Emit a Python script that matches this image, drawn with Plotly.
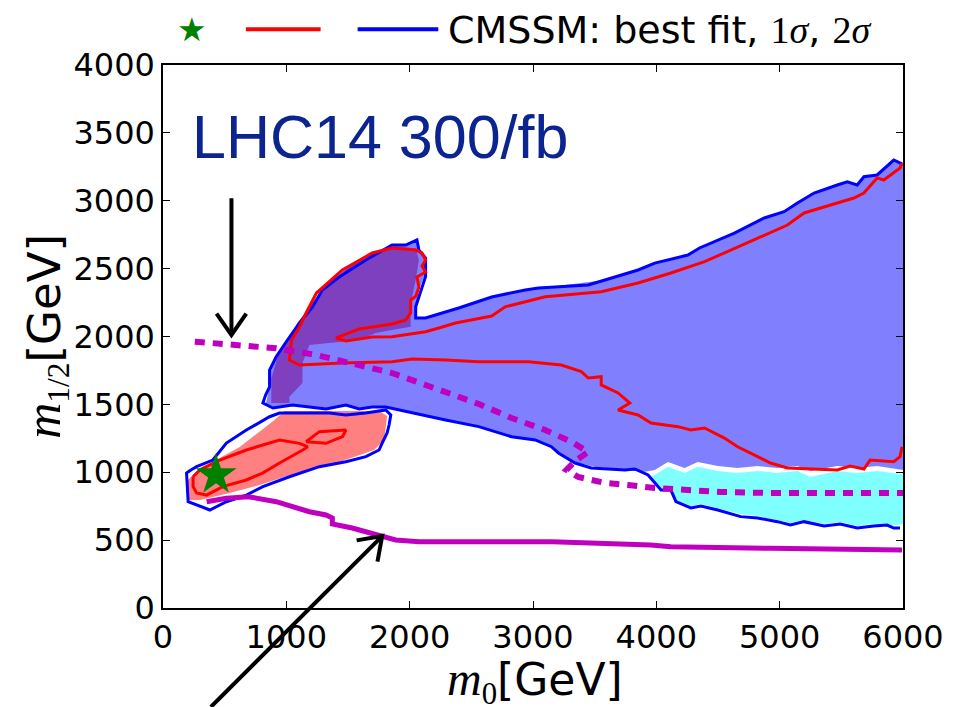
import plotly.graph_objects as go

# ---------------- data (GeV) ----------------
# 2-sigma (blue) filled region, upper band incl. hook
blue_fill_x = [832, 848, 864, 864, 918, 1009, 1106, 1211, 1292, 1429, 1645, 1857, 1968, 2059, 2075, 2129, 2129, 2075,
               2049, 2049, 2129, 2398, 2665, 2937, 3367, 3583, 3852, 3987, 4256, 4350, 4633, 4875, 5036, 5144, 5279,
               5467, 5548, 5629, 5683, 5790, 5925, 6000, 6000, 5790, 5629, 5467, 5249, 5144, 4982, 4821, 4659, 4498,
               4336, 4229, 4094, 3987, 3906, 3771, 3502, 3367, 3230, 3149, 3018, 2826, 2695, 2560, 2291, 2019, 1806,
               1696, 1591, 1483, 1322, 1187, 1050, 888]
blue_fill_y = [1495, 1569, 1628, 1753, 1851, 1974, 2099, 2217, 2343, 2438, 2564, 2674, 2674, 2711, 2637, 2564, 2468, 2343,
               2217, 2136, 2136, 2210, 2291, 2343, 2394, 2416, 2490, 2541, 2600, 2652, 2762, 2873, 2919, 2983, 3057,
               3116, 3140, 3116, 3177, 3190, 3300, 3278, 1017, 1046, 1031, 1046, 1009, 1046, 1031, 1046, 1031, 1046,
               1075, 1031, 1075, 1017, 1004, 1017, 1041, 1068, 1127, 1188, 1238, 1262, 1299, 1336, 1385, 1436, 1480,
               1480, 1466, 1495, 1466, 1480, 1495, 1473]

# overlap (hook) region
hook_fill_x = [878, 878, 930, 1015, 1090, 1180, 1275, 1390, 1530, 1690, 1870, 2049, 2075, 2049, 2019, 2008, 2008, 1857,
               1726, 1591, 1322, 1187, 1131, 1131, 1025, 1025]
hook_fill_y = [1510, 1690, 1851, 1974, 2099, 2205, 2320, 2430, 2530, 2610, 2665, 2650, 2564, 2416, 2293, 2146, 2072, 2048,
               2026, 1974, 1952, 1937, 1805, 1657, 1557, 1510]

# low-mass (red) filled region
low_fill_x = [202, 202, 299, 541, 783, 1106, 1429, 1712, 1793, 1817, 1752, 985, 904, 783, 622, 460, 299]
low_fill_y = [943, 796, 796, 847, 906, 1002, 1075, 1164, 1238, 1414, 1451, 1451, 1385, 1297, 1186, 1105, 1031]

# cyan region
cyan_fill_x = [3933, 3987, 4094, 4229, 4336, 4498, 4659, 4821, 4982, 5144, 5249, 5467, 5629, 5790, 6000, 6000, 5895,
               5763, 5629, 5491, 5360, 5198, 5087, 4982, 4821, 4684, 4498, 4361, 4280, 4159, 4118, 4038]
cyan_fill_y = [958, 980, 1040, 995, 1040, 1010, 995, 1010, 995, 1010, 965, 1010, 995, 1010, 985, 619, 604,
               619, 604, 634, 619, 648, 626, 648, 678, 692, 737, 766, 751, 796, 884, 884]

# 2-sigma contours (blue lines)
blue_a_x = [5976, 5925, 5871, 5763, 5629, 5491, 5360, 5198, 5087, 4982, 4821, 4684, 4498, 4361, 4280, 4159, 4118, 4038,
            3933, 3825, 3745, 3472, 3341, 3206, 3149, 3018, 2826, 2695, 2560, 2291, 2019, 1806, 1696, 1591, 1483, 1322,
            1187, 1050, 891, 810, 832, 864, 864, 918, 1009, 1106, 1211, 1292, 1429, 1645, 1857, 1968, 2059, 2075, 2129,
            2129, 2049, 2049, 2129, 2398, 2665, 2937, 3044, 3448, 3583, 3852, 3987, 4256, 4350, 4633, 4875, 5036,
            5144, 5279, 5467, 5548, 5629, 5683, 5790, 5925, 5992]
blue_a_y = [589, 589, 611, 604, 589, 619, 604, 636, 611, 636, 663, 673, 722, 751, 737, 783, 869, 869,
            980, 1024, 1017, 1031, 1068, 1142, 1188, 1238, 1262, 1299, 1336, 1385, 1436, 1480, 1480, 1466, 1495, 1466,
            1480, 1495, 1473, 1510, 1569, 1628, 1753, 1851, 1974, 2099, 2217, 2343, 2438, 2564, 2674, 2674, 2711, 2637,
            2578, 2441, 2219, 2136, 2136, 2210, 2291, 2343, 2357, 2379, 2416, 2490, 2541, 2600, 2652, 2762, 2873, 2919,
            2983, 3057, 3116, 3140, 3116, 3177, 3190, 3300, 3271]

blue_b_x = [226, 272, 404, 514, 676, 810, 864, 945, 1106, 1349, 1483, 1645, 1806, 1847, 1833, 1817, 1777, 1752, 1645,
            1483, 1268, 1025, 810, 676, 514, 380, 204, 191, 226]
blue_b_y = [1017, 1041, 1090, 1215, 1311, 1378, 1409, 1436, 1436, 1436, 1422, 1436, 1459, 1422, 1348, 1289, 1215, 1164,
            1115, 1078, 1041, 967, 894, 832, 783, 722, 783, 994, 1017]

# 1-sigma contours (red lines)
red_a_x = [5992, 5976, 5925, 5733, 5683, 5572, 5467, 5198, 5063, 4926, 4821, 4659, 4552, 4391, 4280, 4175, 3957, 3852,
           3690, 3785, 3690, 3553, 3553, 3448, 3392, 3230, 2964, 2560, 2291, 2019, 1857, 1454, 1106, 1025, 1042, 1106,
           1160, 1244, 1454, 1696, 1857, 2049, 2100, 2129, 2100, 2129, 2059, 2075, 2051, 2008, 2008, 1968, 1857, 1696,
           1591, 1483, 1403, 1483, 1696, 1857, 2129, 2237, 2372, 2665, 2775, 3099, 3553, 3852, 4118, 4391, 4659, 4875,
           5063, 5198, 5330, 5410, 5602, 5683, 5790, 5844, 5976, 5992]
red_a_y = [1188, 1115, 1078, 1090, 1024, 1046, 1017, 1024, 1031, 1068, 1115, 1188, 1252, 1326, 1311, 1336, 1363, 1422,
           1459, 1510, 1584, 1643, 1704, 1694, 1741, 1790, 1814, 1814, 1827, 1834, 1814, 1805, 1790, 1827, 1974, 2070,
           2173, 2320, 2490, 2615, 2652, 2637, 2615, 2564, 2519, 2475, 2438, 2365, 2298, 2269, 2173, 2122, 2092, 2072,
           2055, 2018, 1989, 1967, 1996, 1999, 2035, 2063, 2099, 2151, 2219, 2293, 2330, 2394, 2468, 2551, 2661, 2748,
           2821, 2910, 2946, 2969, 3020, 3057, 3168, 3153, 3241, 3278]

red_b_x = [244, 299, 460, 676, 945, 1106, 1173, 1133, 945, 808, 676, 485, 353, 272, 244, 244]
red_b_y = [967, 1017, 1090, 1164, 1238, 1213, 1188, 1164, 1068, 994, 943, 894, 832, 847, 894, 967]

red_c_x = [1160, 1268, 1483, 1456, 1322, 1160]
red_c_y = [1225, 1299, 1311, 1262, 1213, 1225]

# magenta limit curves
dashed_x = [258, 622, 918, 1241, 1591, 1857, 2129, 2398, 2560, 2826, 3099, 3311, 3448, 3351, 3271, 3367, 3585, 3771,
            3989, 4256, 4522, 4926, 5330, 5733, 6000]
dashed_y = [1962, 1937, 1913, 1864, 1790, 1731, 1643, 1557, 1503, 1400, 1311, 1225, 1149, 1090, 1017, 965, 921, 906,
            884, 869, 855, 847, 847, 847, 847]

solid_x = [354, 514, 692, 918, 1187, 1322, 1373, 1373, 1534, 1886, 2075, 2205, 2641, 3157, 3583, 3954, 4118, 4748,
           4926, 5992]
solid_y = [783, 808, 820, 783, 709, 685, 663, 619, 589, 501, 488, 486, 488, 488, 479, 464, 452, 440, 440, 427]

best_fit_x = [430]
best_fit_y = [980]

# annotation arrows (GeV): shaft tail->tip and open head (wing, tip, wing)
arrow1_shaft_x = [555, 555]
arrow1_shaft_y = [3018, 2011]
arrow1_head_x = [434, 555, 675]
arrow1_head_y = [2168, 2011, 2168]
arrow2_shaft_x = [388, 1777]
arrow2_shaft_y = [-729, 530]
arrow2_head_x = [1570, 1777, 1739]
arrow2_head_y = [498, 530, 342]

X_RANGE = [0, 6000]
Y_RANGE = [0, 4000]
x_ticks = [0, 1000, 2000, 3000, 4000, 5000, 6000]
y_ticks = [0, 500, 1000, 1500, 2000, 2500, 3000, 3500, 4000]

# ---------------- styles ----------------
C_BLUE_FILL = "#8080ff"
C_HOOK_FILL = "#7f40bf"
C_RED_FILL = "#ff8080"
C_CYAN_FILL = "#80ffff"
C_BLUE = "#0000ff"
C_RED = "#ff0000"
C_MAG = "#bf00bf"
MATH = "font-family:'Liberation Serif'"

fig = go.Figure()


def fill(x, y, color):
    fig.add_trace(go.Scatter(x=x, y=y, mode="lines", fill="toself", fillcolor=color,
                             line=dict(width=0, color=color), hoverinfo="skip", showlegend=False))


def line(x, y, color, width, dash=None):
    fig.add_trace(go.Scatter(x=x, y=y, mode="lines", line=dict(color=color, width=width, dash=dash),
                             hoverinfo="skip", showlegend=False))


fill(blue_fill_x, blue_fill_y, C_BLUE_FILL)
fill(hook_fill_x, hook_fill_y, C_HOOK_FILL)
fill(low_fill_x, low_fill_y, C_RED_FILL)
fill(cyan_fill_x, cyan_fill_y, C_CYAN_FILL)

line(blue_a_x, blue_a_y, C_BLUE, 3)
line(blue_b_x, blue_b_y, C_BLUE, 3)
line(red_a_x, red_a_y, C_RED, 3)
line(red_b_x, red_b_y, C_RED, 3)
line(red_c_x, red_c_y, C_RED, 3)
line(dashed_x, dashed_y, C_MAG, 6, dash="10px,8px")
line(solid_x, solid_y, C_MAG, 5)

fig.add_trace(go.Scatter(x=best_fit_x, y=best_fit_y, mode="markers",
                         marker=dict(symbol="star", size=31, color="#008000", line=dict(width=0)),
                         hoverinfo="skip", showlegend=False))


# arrows as paper-referenced paths (not clipped by the plot area)
def to_paper(xs, ys):
    px = [(v - X_RANGE[0]) / (X_RANGE[1] - X_RANGE[0]) for v in xs]
    py = [(v - Y_RANGE[0]) / (Y_RANGE[1] - Y_RANGE[0]) for v in ys]
    return px, py


def path_shape(xs, ys, width):
    px, py = to_paper(xs, ys)
    d = "M " + " L ".join(f"{a:.5f},{b:.5f}" for a, b in zip(px, py))
    fig.add_shape(type="path", xref="paper", yref="paper", path=d,
                  line=dict(color="black", width=width), layer="above")


path_shape(arrow1_shaft_x, arrow1_shaft_y, 4)
path_shape(arrow1_head_x, arrow1_head_y, 4)
path_shape(arrow2_shaft_x, arrow2_shaft_y, 4)
path_shape(arrow2_head_x, arrow2_head_y, 4)

# legend (manual, above the plot)
fig.add_annotation(xref="paper", yref="paper", x=0.039, y=1.066, xanchor="center", yanchor="middle",
                   showarrow=False, text="★", font=dict(family="DejaVu Sans", size=33, color="#008000"))
fig.add_shape(type="line", xref="paper", yref="paper", x0=0.112, x1=0.213, y0=1.066, y1=1.066,
              line=dict(color=C_RED, width=4))
fig.add_shape(type="line", xref="paper", yref="paper", x0=0.263, x1=0.372, y0=1.066, y1=1.066,
              line=dict(color=C_BLUE, width=4))
fig.add_annotation(xref="paper", yref="paper", x=0.382, y=1.064, xanchor="left", yanchor="middle",
                   showarrow=False,
                   text=f"CMSSM: best fit, <span style=\"{MATH}\">1<i>σ</i></span>, "
                        f"<span style=\"{MATH}\">2<i>σ</i></span>",
                   font=dict(family="DejaVu Sans", size=38, color="black"))

fig.add_annotation(xref="paper", yref="paper", x=0.037, y=0.867, xanchor="left", yanchor="middle",
                   showarrow=False, text="LHC14 300/fb",
                   font=dict(family="Liberation Sans", size=61, color="#0c2490"))

# axis titles
fig.add_annotation(xref="paper", yref="paper", x=0.503, y=-0.135, xanchor="center", yanchor="middle",
                   showarrow=False,
                   text=f"<i style=\"{MATH};font-size:48px\">m</i><sub style=\"{MATH}\">0</sub>[GeV]",
                   font=dict(family="DejaVu Sans", size=44, color="black"))
fig.add_annotation(xref="paper", yref="paper", x=-0.159, y=0.5, xanchor="center", yanchor="middle",
                   showarrow=False, textangle=-90,
                   text=f"<i style=\"{MATH};font-size:50px\">m</i><sub style=\"{MATH}\">1/2</sub>[GeV]",
                   font=dict(family="DejaVu Sans", size=45, color="black"))

axis_common = dict(showgrid=False, zeroline=False, showline=True, linecolor="black", linewidth=1.5,
                   mirror="ticks", ticks="inside", ticklen=7, tickwidth=1, tickcolor="black",
                   tickfont=dict(family="DejaVu Sans", size=32, color="black"))
fig.update_xaxes(range=X_RANGE, tickvals=x_ticks, ticktext=[str(v) for v in x_ticks], **axis_common)
fig.update_yaxes(range=Y_RANGE, tickvals=y_ticks, ticktext=[str(v) for v in y_ticks], **axis_common)

# the page adds an 8px body margin, so the figure is 8px smaller than the window
fig.update_layout(width=948, height=699, margin=dict(l=155, r=50, t=57, b=99),
                  plot_bgcolor="white", paper_bgcolor="white", showlegend=False)

fig.write_html("out.html")
